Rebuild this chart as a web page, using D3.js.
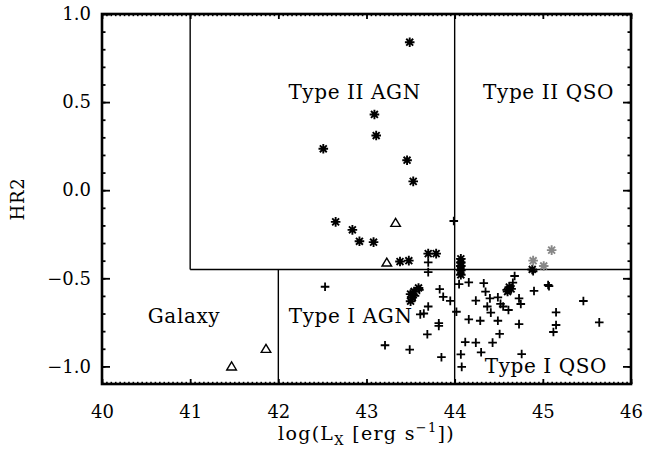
<!DOCTYPE html>
<html><head><meta charset="utf-8">
<script src="https://cdn.jsdelivr.net/npm/d3@7"></script>
<style>
body{margin:0;background:#fff}
svg{display:block}
text{font-family:"DejaVu Serif",serif;fill:#000}
</style>
</head><body>
<svg id="chart" width="645" height="455"></svg>
<script>
// ---------- data ----------
const xDomain = [40, 46];
const yDomain = [-1.1, 1.0];
const xTickValues = [40, 41, 42, 43, 44, 45, 46];
const yTickValues = [-1.0, -0.5, 0.0, 0.5, 1.0];

// Type II AGN / QSO (asterisks, black)
const typeII = [
  [43.49,0.84],[43.09,0.43],[43.11,0.31],[42.51,0.235],[43.46,0.17],[43.53,0.05],
  [42.65,-0.18],[42.84,-0.225],[42.92,-0.29],[43.08,-0.295],
  [43.38,-0.405],[43.48,-0.40],
  [43.70,-0.36],[43.79,-0.36],
  [44.07,-0.39],[44.07,-0.41],[44.07,-0.43],[44.07,-0.455],[44.07,-0.48],
  [43.50,-0.59],[43.52,-0.61],[43.50,-0.63],[43.54,-0.575],[43.59,-0.555],
  [44.62,-0.55],[44.64,-0.56],[44.60,-0.575],
  [44.88,-0.45]
];
// grey asterisks
const typeIIgrey = [[44.89,-0.40],[45.01,-0.43],[45.10,-0.34]];
// Type I (plus)
const typeI = [
  [43.99,-0.175],
  [43.70,-0.41],[43.70,-0.465],
  [42.53,-0.548],
  [44.05,-0.533],[44.16,-0.523],
  [43.60,-0.566],[43.55,-0.60],
  [43.83,-0.562],[43.87,-0.605],[43.95,-0.628],
  [43.70,-0.66],[43.65,-0.70],[43.61,-0.705],
  [43.82,-0.755],[43.82,-0.77],
  [43.69,-0.818],
  [43.21,-0.88],[43.49,-0.905],[43.85,-0.948],
  [44.02,-0.69],
  [44.12,-0.862],[44.24,-0.865],[44.43,-0.865],
  [44.07,-0.932],[44.08,-1.003],
  [44.30,-0.92],[44.76,-0.93],
  [44.16,-0.733],[44.29,-0.741],[44.49,-0.741],
  [44.24,-0.627],[44.37,-0.66],[44.41,-0.695],
  [44.33,-0.528],[44.35,-0.576],[44.40,-0.614],
  [44.49,-0.608],[44.52,-0.645],[44.55,-0.66],
  [44.61,-0.68],[44.68,-0.487],[44.66,-0.525],[44.59,-0.566],
  [44.73,-0.614],[44.75,-0.646],[44.73,-0.76],[44.51,-0.816],
  [44.90,-0.572],[44.89,-0.46],
  [45.06,-0.538],[45.07,-0.545],
  [45.15,-0.693],[45.15,-0.765],[45.12,-0.805],
  [45.46,-0.629],[45.64,-0.75]
];
// Galaxies (triangles)
const galaxies = [[41.47,-1.0],[41.86,-0.90],[43.33,-0.185],[43.23,-0.41]];

// Region boundaries [x1,y1,x2,y2]
const boundaries = [
  [41,-0.45,41,1.0],
  [41,-0.45,46,-0.45],
  [42,-1.1,42,-0.45],
  [44,-1.1,44,1.0]
];
// Region labels: text, x centre, y baseline
const regionNames = ["Type II AGN","Type II QSO","Galaxy","Type I AGN","Type I QSO"];
const regionX = [42.865, 45.065, 40.93, 42.82, 45.035];
const regionY = [0.516, 0.516, -0.752, -0.752, -1.036];

// ---------- layout ----------
const svg = d3.select("#chart");
const m = {left:102, right:14, top:14, bottom:71};
const W = 645, H = 455;
const x = d3.scaleLinear().domain(xDomain).range([m.left, W - m.right]);
const y = d3.scaleLinear().domain(yDomain).range([H - m.bottom, m.top]);

const xMinor = d3.range(0, 121).map(i => 40 + i*0.05);
const yMinor = d3.range(0, 22).map(i => -1.1 + i*0.1).filter(v => v > -1.1 && v < 1.0);

function styleAxis(g, w){
  g.select(".domain").remove();
  g.selectAll(".tick line").attr("stroke","#000").attr("stroke-width", w);
  g.selectAll("text").style("font-size","18px").attr("fill","#000");
}

const bottomY = H - m.bottom, topY = m.top, leftX = m.left, rightX = W - m.right;

// bottom minor
svg.append("g").attr("transform",`translate(0,${bottomY})`)
  .call(d3.axisBottom(x).tickValues(xMinor).tickSize(-2.2).tickFormat(""))
  .call(g=>styleAxis(g,1.6));
// bottom major
svg.append("g").attr("transform",`translate(0,${bottomY})`)
  .call(d3.axisBottom(x).tickValues(xTickValues).tickSize(-5).tickPadding(21).tickFormat(d3.format("d")))
  .call(g=>styleAxis(g,1.8));
// top minor & major
svg.append("g").attr("transform",`translate(0,${topY})`)
  .call(d3.axisTop(x).tickValues(xMinor).tickSize(-2.2).tickFormat(""))
  .call(g=>styleAxis(g,1.6));
svg.append("g").attr("transform",`translate(0,${topY})`)
  .call(d3.axisTop(x).tickValues(xTickValues).tickSize(-5).tickFormat(""))
  .call(g=>styleAxis(g,1.8));
// left minor & major
svg.append("g").attr("transform",`translate(${leftX},0)`)
  .call(d3.axisLeft(y).tickValues(yMinor).tickSize(-3.5).tickFormat(""))
  .call(g=>styleAxis(g,1.8));
svg.append("g").attr("transform",`translate(${leftX},0)`)
  .call(d3.axisLeft(y).tickValues(yTickValues).tickSize(-8).tickPadding(11).tickFormat(d3.format(".1f")))
  .call(g=>styleAxis(g,1.8));
// right minor & major
svg.append("g").attr("transform",`translate(${rightX},0)`)
  .call(d3.axisRight(y).tickValues(yMinor).tickSize(-3.5).tickFormat(""))
  .call(g=>styleAxis(g,1.8));
svg.append("g").attr("transform",`translate(${rightX},0)`)
  .call(d3.axisRight(y).tickValues(yTickValues).tickSize(-8).tickFormat(""))
  .call(g=>styleAxis(g,1.8));

// frame
svg.append("rect").attr("x",leftX).attr("y",topY)
  .attr("width",rightX-leftX).attr("height",bottomY-topY)
  .attr("fill","none").attr("stroke","#000").attr("stroke-width",2.6);

// boundaries
svg.append("g").selectAll("line").data(boundaries).join("line")
  .attr("x1",d=>x(d[0])).attr("y1",d=>y(d[1]))
  .attr("x2",d=>x(d[2])).attr("y2",d=>y(d[3]))
  .attr("stroke","#000").attr("stroke-width",1.4);

// region labels
svg.append("g").selectAll("text").data(regionNames).join("text")
  .attr("x",(d,i)=>x(regionX[i])).attr("y",(d,i)=>y(regionY[i]))
  .attr("text-anchor","middle")
  .style("font-size","20px").style("letter-spacing","0.6px")
  .text(d=>d);

// markers
const r = 4.8, a = r*0.72;
const starPath = `M${-r},0H${r}M0,${-r}V${r}M${-a},${-a}L${a},${a}M${-a},${a}L${a},${-a}`;
const plusPath = `M-4.3,0H4.3M0,-4.3V4.3`;
const triPath = `M-4.8,3.6L0,-4.4L4.8,3.6Z`;

svg.append("g").selectAll("path").data(typeI).join("path")
  .attr("transform",d=>`translate(${x(d[0])},${y(d[1])})`)
  .attr("d",plusPath).attr("stroke","#000").attr("stroke-width",1.8).attr("fill","none");
svg.append("g").selectAll("path").data(typeII).join("path")
  .attr("transform",d=>`translate(${x(d[0])},${y(d[1])})`)
  .attr("d",starPath).attr("stroke","#000").attr("stroke-width",1.9).attr("fill","none");
svg.append("g").selectAll("path").data(typeIIgrey).join("path")
  .attr("transform",d=>`translate(${x(d[0])},${y(d[1])})`)
  .attr("d",starPath).attr("stroke","#888").attr("stroke-width",1.9).attr("fill","none");
svg.append("g").selectAll("path").data(galaxies).join("path")
  .attr("transform",d=>`translate(${x(d[0])},${y(d[1])})`)
  .attr("d",triPath).attr("stroke","#000").attr("stroke-width",1.4).attr("fill","none");

// axis titles
const xt = svg.append("text").attr("x",(leftX+rightX)/2).attr("y",440)
  .attr("text-anchor","middle").style("font-size","19px").style("letter-spacing","1.3px");
xt.append("tspan").text("log(L");
xt.append("tspan").attr("dy",5).style("font-size","13px").text("X");
xt.append("tspan").attr("dy",-5).text(" [erg s");
xt.append("tspan").attr("dy",-8).style("font-size","13px").text("−1");
xt.append("tspan").attr("dy",8).text("])");

svg.append("text").attr("transform",`translate(24,${(topY+bottomY)/2}) rotate(-90)`)
  .attr("text-anchor","middle").style("font-size","18px").style("letter-spacing","0.8px").text("HR2");
</script>
</body></html>
